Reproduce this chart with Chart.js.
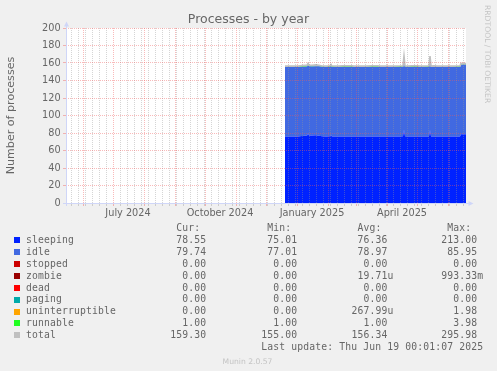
<!DOCTYPE html>
<html>
<head>
<meta charset="utf-8">
<script src="https://cdn.jsdelivr.net/npm/chart.js@4.4.1/dist/chart.umd.min.js"></script>
<style>
  html, body { margin: 0; padding: 0; background: #f0f0f0; }
  #wrap { position: relative; width: 497px; height: 371px; overflow: hidden; color: #666; font-family: 'DejaVu Sans', sans-serif; }
  #chart { position: absolute; left: 0; top: 0; }
  .txt { position: absolute; line-height: 1; white-space: pre; }
  .mono { font-family: 'DejaVu Sans Mono', monospace; letter-spacing: 0.15px; }
  .sq { position: absolute; width: 6px; height: 6px; }
</style>
</head>
<body>
<div id="wrap">
  <canvas id="chart" width="497" height="225"></canvas>
</div>
<script>
// ---------- DATA (x = days since 15 May 2024, 1 px per day) ----------
const days =     [219, 226, 232, 236, 239, 241, 242, 243, 246, 250, 253, 256, 260, 264, 265, 266, 272, 277, 286, 288, 300, 306, 312, 314, 326, 334, 337, 338, 339, 341, 346, 352, 354, 363, 364, 365, 368, 371, 385, 394, 395, 400];
const sleeping = [76.0, 76.1, 76.0, 76.6, 76.8, 77.0, 79.5, 77.2, 77.2, 77.3, 77.0, 76.3, 76.0, 76.4, 77.5, 76.1, 76.0, 76.0, 76.0, 76.0, 76.0, 76.0, 76.0, 76.0, 76.0, 76.0, 76.2, 84.0, 76.2, 76.0, 76.0, 76.0, 76.0, 76.1, 83.5, 76.1, 76.0, 76.0, 76.0, 76.0, 78.5, 78.55];
const idle =     [79.4, 79.3, 79.4, 79.2, 79.0, 79.0, 78.0, 79.0, 78.8, 79.0, 79.2, 79.3, 79.4, 79.3, 79.0, 79.4, 79.4, 79.4, 79.4, 79.4, 79.4, 79.4, 79.4, 79.4, 79.4, 79.4, 79.4, 81.5, 79.4, 79.4, 79.4, 79.4, 79.4, 79.4, 82.0, 79.4, 79.4, 79.4, 79.4, 79.5, 79.7, 79.74];
const runnable = [1.0, 1.0, 1.0, 1.2, 1.5, 1.4, 2.0, 1.4, 1.5, 1.6, 1.3, 1.0, 1.0, 1.1, 1.8, 1.0, 1.0, 1.3, 1.3, 1.0, 1.0, 1.3, 1.3, 1.0, 1.0, 1.2, 1.1, 2.5, 1.1, 1.0, 1.3, 1.3, 1.0, 1.0, 2.5, 1.0, 1.3, 1.0, 1.0, 1.0, 1.3, 1.0];
const total =    [156.4, 156.4, 156.4, 157.0, 157.3, 157.4, 159.5, 157.6, 157.5, 157.9, 157.5, 156.6, 156.4, 156.8, 158.3, 156.5, 156.4, 156.7, 156.7, 156.4, 156.4, 156.7, 156.7, 156.4, 156.4, 156.6, 156.7, 168.0, 156.7, 156.4, 156.7, 156.7, 156.4, 156.5, 168.0, 156.5, 156.7, 156.4, 156.4, 156.5, 159.5, 159.3];

// ---------- LEGEND TABLE ----------
const seriesNames  = ['sleeping', 'idle', 'stopped', 'zombie', 'dead', 'paging', 'uninterruptible', 'runnable', 'total'];
const seriesColors = ['#0022ff', '#4169e1', '#cc0000', '#990000', '#ff0000', '#00aaaa', '#ffa500', '#22ff22', '#c0c0c0'];
const curVals = ['78.55 ', '79.74 ', '0.00 ', '0.00 ', '0.00 ', '0.00 ', '0.00 ', '1.00 ', '159.30 '];
const minVals = ['75.01 ', '77.01 ', '0.00 ', '0.00 ', '0.00 ', '0.00 ', '0.00 ', '1.00 ', '155.00 '];
const avgVals = ['76.36 ', '78.97 ', '0.00 ', '19.71u', '0.00 ', '0.00 ', '267.99u', '1.00 ', '156.34 '];
const maxVals = ['213.00 ', '85.95 ', '0.00 ', '993.33m', '0.00 ', '0.00 ', '1.98 ', '3.98 ', '295.98 '];

// ---------- AXIS TICKS ----------
const monthStarts = [17, 47, 78, 109, 139, 170, 200, 231, 262, 290, 321, 351, 382];
const firstMonday = 5;
const labelDays = [62, 154, 246, 336];
const labelTexts = ['July 2024', 'October 2024', 'January 2025', 'April 2025'];

const GRID = 'rgba(150,150,150,0.4)';
const MGRID = 'rgba(240,90,90,0.42)';

const pts = arr => days.map((d, i) => ({ x: d, y: arr[i] }));

const canvasBg = {
    id: 'canvasBg',
    beforeDraw(chart) {
        const { ctx, chartArea: a } = chart;
        ctx.save();
        ctx.fillStyle = '#ffffff';
        ctx.fillRect(a.left, a.top, a.right - a.left, a.bottom - a.top);
        ctx.restore();
    }
};

const axisArrows = {
    id: 'axisArrows',
    afterDraw(chart) {
        const { ctx, chartArea: a } = chart;
        ctx.save();
        ctx.strokeStyle = '#cfd6f8';
        ctx.fillStyle = '#cfd6f8';
        ctx.lineWidth = 1;
        ctx.beginPath();
        ctx.moveTo(a.left - 3, a.bottom + 0.5); ctx.lineTo(a.right + 3, a.bottom + 0.5);
        ctx.moveTo(a.left + 0.5, a.bottom + 3); ctx.lineTo(a.left + 0.5, a.top - 2);
        ctx.stroke();
        ctx.beginPath();
        ctx.moveTo(a.right + 7.5, a.bottom + 0.5); ctx.lineTo(a.right + 2.5, a.bottom - 2); ctx.lineTo(a.right + 2.5, a.bottom + 3); ctx.closePath();
        ctx.moveTo(a.left + 0.5, a.top - 6.5); ctx.lineTo(a.left - 2, a.top - 1.5); ctx.lineTo(a.left + 3, a.top - 1.5); ctx.closePath();
        ctx.fill();
        ctx.restore();
    }
};

function xTicks(scale) {
    const t = [];
    for (let d = firstMonday; d <= 400; d += 7) {
        if (!monthStarts.includes(d)) t.push({ value: d, kind: 'minor' });
    }
    monthStarts.forEach(d => t.push({ value: d, kind: 'major' }));
    labelDays.forEach((d, i) => t.push({ value: d, kind: 'label', text: labelTexts[i] }));
    t.sort((a, b) => a.value - b.value);
    scale.ticks = t;
}

const xGridColor = c => c.tick && c.tick.kind === 'major' ? MGRID : (c.tick && c.tick.kind === 'minor' ? GRID : 'rgba(0,0,0,0)');
const yGridColor = c => c.tick && c.tick.value % 20 === 0 ? MGRID : GRID;

new Chart(document.getElementById('chart'), {
    type: 'line',
    data: {
        datasets: [
            { label: 'sleeping', data: pts(sleeping), backgroundColor: seriesColors[0], fill: 'origin', borderWidth: 0, pointRadius: 0 },
            { label: 'idle', data: pts(idle), backgroundColor: seriesColors[1], fill: '-1', borderWidth: 0, pointRadius: 0 },
            { label: 'runnable', data: pts(runnable), backgroundColor: seriesColors[7], fill: '-1', borderWidth: 0, pointRadius: 0 },
            { label: 'total', data: pts(total), borderColor: seriesColors[8], borderWidth: 1.6, fill: false, pointRadius: 0, stack: 'total', order: -1 }
        ]
    },
    options: {
        responsive: false,
        animation: false,
        devicePixelRatio: 1,
        layout: { padding: { top: 28, right: 31, left: 0, bottom: 0 } },
        elements: { line: { tension: 0 } },
        plugins: { legend: { display: false }, tooltip: { enabled: false } },
        scales: {
            x: {
                type: 'linear', min: 0, max: 400,
                afterBuildTicks: xTicks,
                afterFit: s => { s.height = 22; },
                ticks: {
                    autoSkip: false, maxRotation: 0, padding: 2, color: '#666',
                    font: { family: "'DejaVu Sans', sans-serif", size: 9.72 },
                    callback: (v, i, ticks) => ticks[i].text || ''
                },
                grid: { color: xGridColor, tickColor: xGridColor, tickLength: 3, z: 1 },
                border: { display: false, dash: [1, 1] }
            },
            y: {
                stacked: true, min: 0, max: 200,
                afterFit: s => { s.width = 66; },
                ticks: {
                    stepSize: 10, padding: 2.4, color: '#666',
                    font: { family: "'DejaVu Sans', sans-serif", size: 9.72 },
                    callback: v => v % 20 === 0 ? v : ''
                },
                grid: { color: yGridColor, tickColor: yGridColor, tickLength: 3, z: 1 },
                border: { display: false, dash: [1, 1] },
                title: {
                    display: true, text: 'Number of processes', color: '#666',
                    font: { family: "'DejaVu Sans', sans-serif", size: 11.1 },
                    padding: { top: 4.5, bottom: 0 }
                }
            }
        }
    },
    plugins: [canvasBg, axisArrows]
});

// ---------- TEXT AROUND THE CHART ----------
const wrap = document.getElementById('wrap');
function place(text, opts) {
    const el = document.createElement('div');
    el.className = 'txt' + (opts.mono ? ' mono' : '');
    el.textContent = text;
    el.style.fontSize = opts.fs + 'px';
    el.style.top = (opts.base - 0.846 * opts.fs) + 'px';
    if (opts.right !== undefined) { el.style.right = (497 - opts.right) + 'px'; el.style.textAlign = 'right'; }
    else if (opts.center !== undefined) { el.style.left = '0px'; el.style.width = (2 * opts.center) + 'px'; el.style.textAlign = 'center'; }
    else el.style.left = opts.left + 'px';
    if (opts.color) el.style.color = opts.color;
    wrap.appendChild(el);
    return el;
}

place('Processes - by year', { fs: 12.5, base: 24, center: 248.5 });

const colRight = [212.3, 303.3, 393.4, 483.3];
const LF = 9.72;
['Cur:  ', 'Min:  ', 'Avg:  ', 'Max:  '].forEach((h, j) => place(h, { fs: LF, base: 230.8, right: colRight[j], mono: true }));

seriesNames.forEach((name, k) => {
    const base = 243.3 + 11.88 * k;
    const sq = document.createElement('div');
    sq.className = 'sq';
    sq.style.left = '14px';
    sq.style.top = (Math.round(base) - 6) + 'px';
    sq.style.background = seriesColors[k];
    wrap.appendChild(sq);
    place(name, { fs: LF, base, left: 26, mono: true });
    [curVals, minVals, avgVals, maxVals].forEach((col, j) => place(col[k], { fs: LF, base, right: colRight[j], mono: true }));
});

place('Last update: Thu Jun 19 00:01:07 2025', { fs: LF, base: 350.3, right: 483.3, mono: true });
place('Munin 2.0.57', { fs: 7.64, base: 364, center: 247.5, color: '#c4c4c4' });

const wm = place('RRDTOOL / TOBI OETIKER', { fs: 7.64, base: 0.846 * 7.64 + 4.5, left: 491, color: '#c4c4c4' });
wm.style.transformOrigin = 'left top';
wm.style.transform = 'rotate(90deg)';
</script>
</body>
</html>
